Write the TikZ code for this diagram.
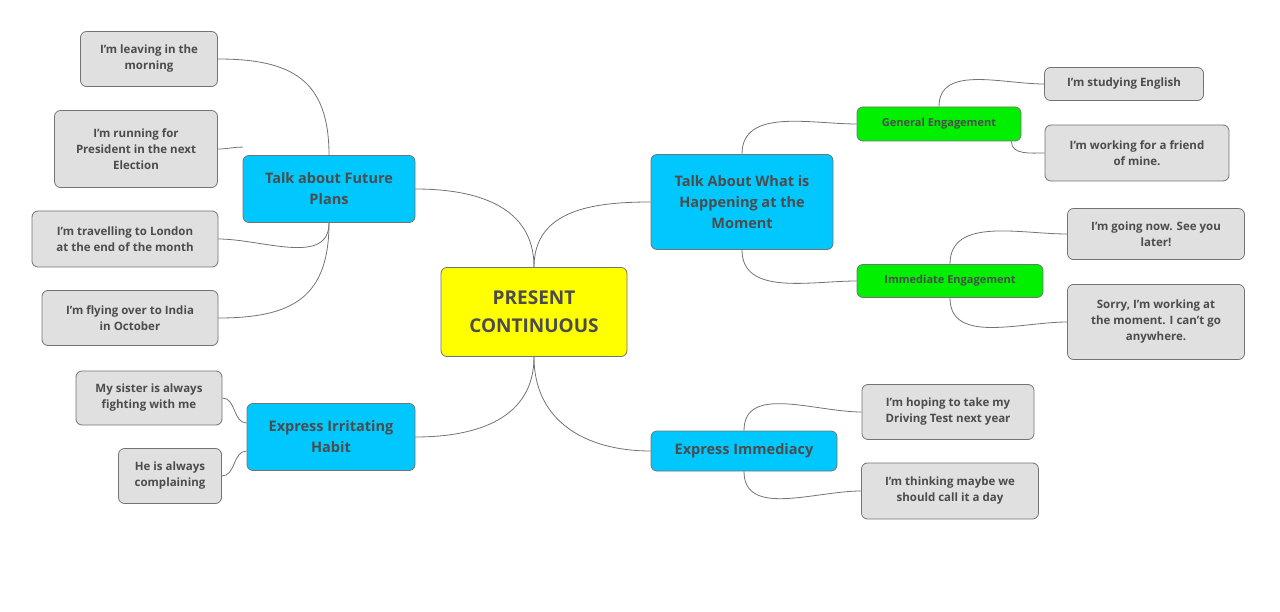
\documentclass[tikz,border=0pt]{standalone}
\usepackage{fontspec}
\setmainfont{Open Sans}
\begin{document}
\begin{tikzpicture}[x=1pt,y=-1pt,
 box/.style={draw=black!55,line width=0.8pt,rounded corners=6pt,align=center,text=black!70,font=\bfseries,inner sep=0pt},
 leaf/.style={box,fill=black!12,font=\bfseries\fontsize{11.5}{16}\selectfont},
 main/.style={box,fill=cyan!80!blue!20!cyan,fill={rgb,255:red,0;green,200;blue,255},font=\bfseries\fontsize{14.5}{21}\selectfont},
 sub/.style={box,fill={rgb,255:red,0;green,240;blue,0},font=\bfseries\fontsize{11}{14}\selectfont},
 con/.style={draw=black!55,line width=0.8pt}]
\useasboundingbox (0,0) rectangle (1280,612);
\node[box,fill={rgb,255:red,255;green,255;blue,0},font=\bfseries\fontsize{19}{28}\selectfont,minimum width=186,minimum height=89] (c) at (534,312) {PRESENT\\CONTINUOUS};
\node[main,minimum width=172,minimum height=67] (fp) at (329,189) {Talk about Future\\Plans};
\node[main,minimum width=168,minimum height=67] (ih) at (331,437) {Express Irritating\\Habit};
\node[main,minimum width=182,minimum height=95] (hm) at (742,202) {Talk About What is\\Happening at the\\Moment};
\node[main,minimum width=186,minimum height=40] (ei) at (744,451) {Express Immediacy};
\node[sub,minimum width=164,minimum height=34] (ge) at (939,124) {General Engagement};
\node[sub,minimum width=186,minimum height=33] (ie) at (950,281) {Immediate Engagement};
\node[leaf,minimum width=137,minimum height=55] (l1) at (149,59) {I'm leaving in the\\morning};
\node[leaf,minimum width=163,minimum height=77] (l2) at (136,149) {I'm running for\\President in the next\\Election};
\node[leaf,minimum width=186,minimum height=56] (l3) at (125,239) {I'm travelling to London\\at the end of the month};
\node[leaf,minimum width=176,minimum height=55] (l4) at (130,318) {I'm flying over to India\\in October};
\node[leaf,minimum width=146,minimum height=54] (l5) at (149,398) {My sister is always\\fighting with me};
\node[leaf,minimum width=103,minimum height=55] (l6) at (170,476) {He is always\\complaining};
\node[leaf,minimum width=159,minimum height=33] (r1) at (1124,84) {I'm studying English};
\node[leaf,minimum width=184,minimum height=56] (r2) at (1137,153) {I'm working for a friend\\of mine.};
\node[leaf,minimum width=177,minimum height=51] (r3) at (1156,234) {I'm going now. See you\\later!};
\node[leaf,minimum width=177,minimum height=75] (r4) at (1156,322) {Sorry, I'm working at\\the moment. I can't go\\anywhere.};
\node[leaf,minimum width=172,minimum height=55] (r5) at (948,412) {I'm hoping to take my\\Driving Test next year};
\node[leaf,minimum width=177,minimum height=56] (r6) at (950,491) {I'm thinking maybe we\\should call it a day};
% center links
\draw[con] (c.north) to[out=90,in=0,looseness=1.1] (fp.east);
\draw[con] (c.north) to[out=90,in=180,looseness=1.1] (hm.west);
\draw[con] (c.south) to[out=-90,in=0,looseness=1.1] (ih.east);
\draw[con] (c.south) to[out=-90,in=180,looseness=1.1] (ei.west);
% future plans
\draw[con] (fp.north) to[out=90,in=0,looseness=1.3] (l1.east);
\draw[con] (fp.north west) ++(0,-8) to[out=180,in=0] (l2.east);
\draw[con] (fp.south) to[out=-90,in=0] (l3.east);
\draw[con] (fp.south) to[out=-90,in=0,looseness=1.3] (l4.east);
% irritating
\draw[con] (ih.west) ++(0,-14) to[out=180,in=0] (l5.east);
\draw[con] (ih.west) ++(0,14) to[out=180,in=0] (l6.east);
% happening
\draw[con] (hm.north) to[out=90,in=180] (ge.west);
\draw[con] (hm.south) to[out=-90,in=180] (ie.west);
\draw[con] (ge.north) to[out=90,in=180] (r1.west);
\draw[con] (ge.south east) ++(-10,0) to[out=-90,in=180] (r2.west);
\draw[con] (ie.north) to[out=90,in=180] (r3.west);
\draw[con] (ie.south) to[out=-90,in=180] (r4.west);
% immediacy
\draw[con] (ei.north) to[out=90,in=180] (r5.west);
\draw[con] (ei.south) to[out=-90,in=180] (r6.west);
\end{tikzpicture}
\end{document}
